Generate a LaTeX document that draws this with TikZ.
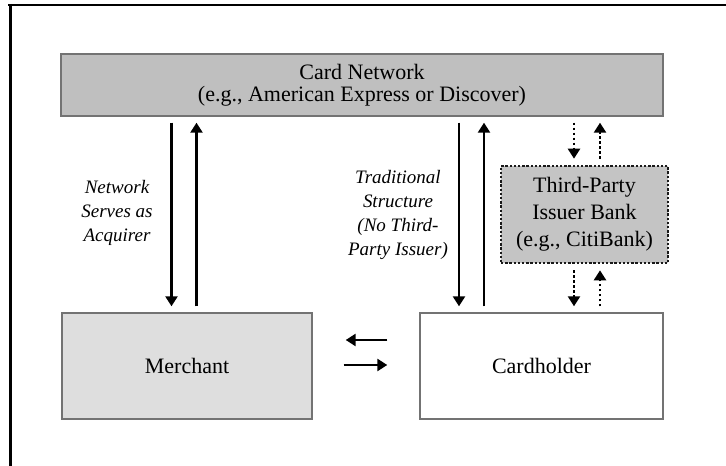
\documentclass[tikz,border=0pt]{standalone}
\usepackage{fontspec}
\setmainfont{Liberation Serif}
\usetikzlibrary{arrows.meta}

\begin{document}
\begin{tikzpicture}[
  x=1pt, y=1pt,
  >={Triangle[length=10pt,width=12pt]},
  every node/.style={font=\fontsize{22}{27}\selectfont, align=center, text=black, inner sep=0pt},
  netbox/.style={draw=black!55, line width=1.4pt, fill=black!25, minimum width=602pt, minimum height=62pt},
  partybox/.style={draw=black!55, line width=1.4pt, minimum width=250pt, minimum height=106pt},
  issuerbox/.style={draw=black!90, line width=2.6pt, dash pattern=on 2.4pt off 1.8pt, fill=black!23, minimum width=167pt, minimum height=97pt},
  lbl/.style={font=\fontsize{19}{24}\selectfont\itshape},
  arrow/.style={->, line width=2.4pt, shorten <=6pt, shorten >=6pt},
  dotarrow/.style={arrow, dash pattern=on 2.4pt off 2.6pt},
  sidearrow/.style={->, line width=2.6pt}
]
\useasboundingbox (0,0) rectangle (726,466);

\draw[line width=2.5pt] (8,461) -- (726,461);
\draw[line width=3pt] (10,462) -- (10,0);

\node[netbox, font=\fontsize{22}{22}\selectfont] (net) at (362,381) {Card Network\\(e.g., American Express or Discover)};
\node[partybox, fill=black!13] (merch) at (187,100) {Merchant};
\node[partybox, fill=white, minimum width=243pt] (card) at (541.5,100) {Cardholder};
\node[issuerbox] (issuer) at (584.5,251.5) {Third-Party\\Issuer Bank\\(e.g., CitiBank)};

\node[lbl] (acq) at (117,253) {Network\\Serves as\\Acquirer};
\node[lbl] (trad) at (398,251.5) {Traditional\\Structure\\(No Third-\\Party Issuer)};

\coordinate (m1) at ([xshift=-15.5pt]merch.north);
\coordinate (m2) at ([xshift=9.5pt]merch.north);
\coordinate (c1) at ([xshift=-82.5pt]card.north);
\coordinate (c2) at ([xshift=-57.5pt]card.north);
\coordinate (i1) at ([xshift=-10.5pt]issuer.north);
\coordinate (i2) at ([xshift=15.5pt]issuer.north);

\draw[arrow] (m1 |- net.south) -- (m1);
\draw[arrow] (m2) -- (m2 |- net.south);
\draw[arrow] (c1 |- net.south) -- (c1);
\draw[arrow] (c2) -- (c2 |- net.south);

\draw[dotarrow] (i1 |- net.south) -- (i1);
\draw[dotarrow] (i2) -- (i2 |- net.south);
\draw[dotarrow] (issuer.south -| i1) -- (card.north -| i1);
\draw[dotarrow] (card.north -| i2) -- (issuer.south -| i2);

\draw[sidearrow] ([xshift=-32pt,yshift=26pt]card.west) -- ([xshift=33pt,yshift=26pt]merch.east);
\draw[sidearrow] ([xshift=31pt,yshift=1pt]merch.east) -- ([xshift=-32pt,yshift=1pt]card.west);

\end{tikzpicture}
\end{document}
